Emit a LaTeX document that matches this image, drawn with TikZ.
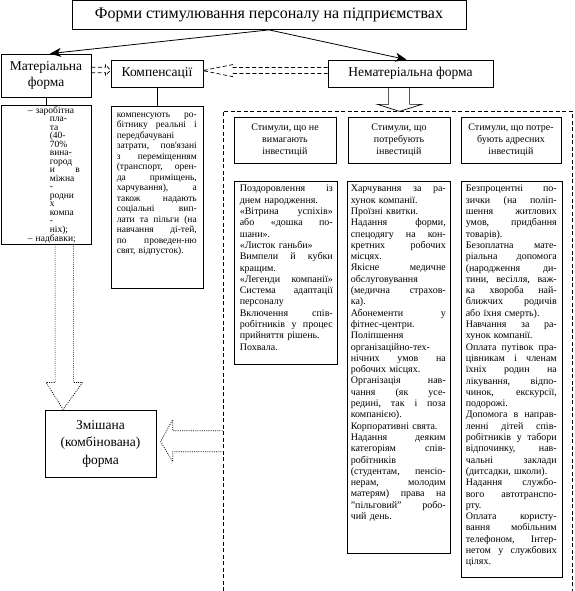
\documentclass[tikz,border=0pt]{standalone}
\usepackage{fontspec}
\setmainfont{Liberation Serif}
\usetikzlibrary{arrows.meta,calc}
\setlength{\lineskiplimit}{-20pt}
\newlength{\cw}
\ExplSyntaxOn
\NewDocumentCommand{\jline}{m}{
  \seq_set_split:Nnn \l_tmpa_seq {~} {#1}
  \hbox_to_wd:nn {\cw} { \seq_use:Nn \l_tmpa_seq { \hfil } }
}
\NewDocumentCommand{\lline}{m}{
  \hbox_to_wd:nn {\cw} { #1 \hfil }
}
\ExplSyntaxOff
\begin{document}
\begin{tikzpicture}[x=1pt,y=-1pt,
  box/.style={draw,line width=0.8pt,inner sep=0pt},
  txt/.style={inner sep=0pt,anchor=north west},
  conn/.style={line width=0.8pt},
  arr/.style={conn,-{Stealth[length=11pt,width=9pt,inset=3pt]}},
  dsh/.style={line width=0.7pt,dash pattern=on 4pt off 2.5pt},
  dtt/.style={line width=0.7pt,dash pattern=on 1pt off 1.2pt},
  fbig/.style={font=\fontsize{13.5}{16}\selectfont},
  fhead/.style={font=\fontsize{10}{12}\selectfont},
]
\fill[white] (0,0) rectangle (574,591);
\useasboundingbox (0,0) rectangle (574,591);

% top level
\node[box,minimum width=394pt,minimum height=29pt,font=\fontsize{16}{18}\selectfont] (title) at (269,15) {Форми стимулювання персоналу на підприємствах};
\node[box,fbig,minimum width=90pt,minimum height=43pt,align=center] (mat) at (46,75.5) {Матеріальна\\форма};
\node[box,fbig,minimum width=92pt,minimum height=27pt] (komp) at (157,73.5) {Компенсації};
\node[box,fbig,minimum width=165pt,minimum height=27pt] (nemat) at (410.5,73.5) {Нематеріальна форма};

% second level boxes
\node[box,minimum width=90pt,minimum height=139pt] (matlist) at (46,174.5) {};
\node[box,minimum width=92pt,minimum height=182pt] (komplist) at (157,197) {};
\node[draw,dsh,minimum width=349pt,minimum height=490pt,inner sep=0pt] (inv) at (397.5,356) {};

% headers
\node[box,fhead,minimum width=102pt,minimum height=46pt,align=center] (h1) at (285,140) {Стимули, що не\\вимагають\\інвестицій};
\node[box,fhead,minimum width=102pt,minimum height=46pt,align=center] (h2) at (399,140) {Стимули, що\\потребують\\інвестицій};
\node[box,fhead,minimum width=100pt,minimum height=46pt,align=center] (h3) at (511,140) {Стимули, що потре-\\бують адресних\\інвестицій};

% content boxes
\node[box,minimum width=103pt,minimum height=183pt] (c1) at (285.5,272.5) {};
\node[box,minimum width=103pt,minimum height=372pt] (c2) at (398.5,367) {};
\node[box,minimum width=101pt,minimum height=396pt] (c3) at (511.5,379) {};

% mixed form
\node[box,minimum width=111pt,minimum height=67pt,align=center,font=\fontsize{13.5}{17.5}\selectfont] (mixed) at (100.5,443.5) {Змішана\\(комбінована)\\форма};

% texts
\node[txt,text width=56pt,align=left,font=\fontsize{9.5}{8.5}\selectfont] (mattxt) at ($(matlist.north west)+(27,1.5)$) {– заробітна\\
\hspace*{22pt}пла-\\
\hspace*{22pt}та\\
\hspace*{22pt}(40-\\
\hspace*{22pt}70\%\\
\hspace*{22pt}вина-\\
\hspace*{22pt}город\\
\hspace*{22pt}\hbox to 30pt{и\hfil в}\\
\hspace*{22pt}міжна\\
\hspace*{22pt}-\\
\hspace*{22pt}родни\\
\hspace*{22pt}х\\
\hspace*{22pt}компа\\
\hspace*{22pt}-\\
\hspace*{22pt}ніх);\\
– надбавки;};

\setlength{\cw}{80pt}
\node[txt,text width=80pt,font=\fontsize{9.5}{10.5}\selectfont] (komptxt) at ($(komplist.north west)+(6,7)$) {%
\jline{компенсують ро-}
\jline{бітнику реальні і}
\lline{передбачувані}
\jline{затрати, пов\textquotesingle{}язані}
\jline{з переміщенням}
\jline{(транспорт, орен-}
\jline{да приміщень,}
\jline{харчування), а}
\jline{також надають}
\jline{соціальні вип-}
\jline{лати та пільги (на}
\jline{навчання ді-тей,}
\jline{по проведен-ню}
\lline{свят, відпусток).}};

\setlength{\cw}{93pt}
\node[txt,text width=93pt,font=\fontsize{10}{11.3}\selectfont] (t1) at ($(c1.north west)+(6,4.5)$) {%
\jline{Поздоровлення із}
\lline{днем народження.}
\jline{«Вітрина успіхів»}
\jline{або «дошка по-}
\lline{шани».}
\lline{«Листок ганьби»}
\jline{Вимпели й кубки}
\lline{кращим.}
\jline{«Легенди компанії»}
\jline{Система адаптації}
\lline{персоналу}
\jline{Включення спів-}
\jline{робітників у процес}
\lline{прийняття рішень.}
\lline{Похвала.}};

\setlength{\cw}{95pt}
\node[txt,text width=95pt,font=\fontsize{10}{11.3}\selectfont] (t2) at ($(c2.north west)+(4,4.5)$) {%
\jline{Харчування за ра-}
\lline{хунок компанії.}
\lline{Проїзні квитки.}
\jline{Надання форми,}
\jline{спецодягу на кон-}
\jline{кретних робочих}
\lline{місцях.}
\jline{Якісне медичне}
\lline{обслуговування}
\jline{(медична страхов-}
\lline{ка).}
\jline{Абонементи у}
\lline{фітнес-центри.}
\lline{Поліпшення}
\lline{організаційно-тех-}
\jline{нічних умов на}
\lline{робочих місцях.}
\jline{Організація нав-}
\jline{чання (як усе-}
\jline{редині, так і поза}
\lline{компанією).}
\lline{Корпоративні свята.}
\jline{Надання деяким}
\jline{категоріям спів-}
\lline{робітників}
\jline{(студентам, пенсіо-}
\jline{нерам, молодим}
\jline{матерям) права на}
\jline{"пільговий" робо-}
\lline{чий день.}};

\setlength{\cw}{91pt}
\node[txt,text width=91pt,font=\fontsize{10}{11.3}\selectfont] (t3) at ($(c3.north west)+(5,4.5)$) {%
\jline{Безпроцентні по-}
\jline{зички (на поліп-}
\jline{шення житлових}
\jline{умов, придбання}
\lline{товарів).}
\jline{Безоплатна мате-}
\jline{ріальна допомога}
\jline{(народження ди-}
\jline{тини, весілля, важ-}
\jline{ка хвороба най-}
\jline{ближчих родичів}
\lline{або їхня смерть).}
\jline{Навчання за ра-}
\lline{хунок компанії.}
\jline{Оплата путівок пра-}
\jline{цівникам і членам}
\jline{їхніх родин на}
\jline{лікування, відпо-}
\jline{чинок, екскурсії,}
\lline{подорожі.}
\jline{Допомога в направ-}
\jline{ленні дітей спів-}
\jline{робітників у табори}
\jline{відпочинку, нав-}
\jline{чальні заклади}
\lline{(дитсадки, школи).}
\jline{Надання службо-}
\jline{вого автотранспо-}
\lline{рту.}
\jline{Оплата користу-}
\jline{вання мобільним}
\jline{телефоном, Інтер-}
\jline{нетом у службових}
\lline{цілях.}};

% connectors
\draw[arr] (title.south) -- ($(mat.north)+(4,0)$);
\draw[arr] (title.south) -- ($(nemat.north)+(-4,0)$);
\draw[conn] (mat.south) -- (matlist.north);
\draw[conn] (komp.south) -- (komplist.north);

% solid block arrow down from non-material form
\draw[conn,line width=0.7pt] ($(nemat.south west)+(61,0)$) -- ++(0,17) -- ++(-11,0) -- ++(22,7) -- ++(22,-7) -- ++(-12,0) -- ($(nemat.south west)+(82,0)$);

% dashed block arrows to compensations
\draw[dsh] ($(mat.north east)+(0,13.7)$) -- ++(14,0) -- ++(0,-3) -- ++(5,6) -- ++(-5,5.5) -- ++(0,-3) -- ++(-14,0);
\draw[dsh] ($(nemat.north west)+(0,8)$) -- ++(-95,0) -- ++(0,-3) -- ++(-30,6) -- ++(30,6) -- ++(0,-3) -- ++(95,0);

% dotted block arrows to mixed form
\draw[dtt] ($(matlist.south west)+(54.5,0)$) -- ++(0,138) -- ++(-9,0) -- ++(17,27) -- ++(19.5,-27) -- ++(-9,0) -- ($(matlist.south west)+(73,0)$);
\draw[dtt] ($(inv.north west)+(0,320)$) -- ++(-50,0) -- ++(0,-11) -- ++(-12,22) -- ++(12,20) -- ++(0,-10) -- ++(50,0);
\end{tikzpicture}
\end{document}
